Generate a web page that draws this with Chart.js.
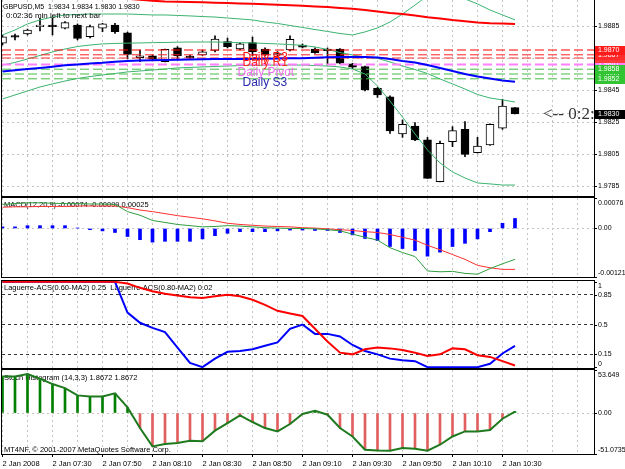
<!DOCTYPE html>
<html>
<head>
<meta charset="utf-8">
<script src="https://cdn.jsdelivr.net/npm/chart.js@4.4.0/dist/chart.umd.min.js"></script>
<style>
  html, body { margin: 0; padding: 0; background: #fff; }
  #wrap { position: relative; width: 625px; height: 469px; overflow: hidden; background: #fff; }
  canvas { position: absolute; left: 0; }
</style>
</head>
<body>
<div id="wrap">
  <canvas id="mainChart" width="625" height="197" style="top:0px"></canvas>
  <canvas id="macdChart" width="625" height="82" style="top:197px"></canvas>
  <canvas id="lagChart" width="625" height="91" style="top:279px"></canvas>
  <canvas id="stochChart" width="625" height="100" style="top:369px"></canvas>
</div>
<script>
// ---- data (42 M5 bars, 07:10 .. 10:35) ----
const timeLabels = ['2 Jan 2008', '2 Jan 07:30', '2 Jan 07:50', '2 Jan 08:10', '2 Jan 08:30', '2 Jan 08:50',
  '2 Jan 09:10', '2 Jan 09:30', '2 Jan 09:50', '2 Jan 10:10', '2 Jan 10:30'];
const labelBars = [0, 4, 8, 12, 16, 20, 24, 28, 32, 36, 40];
const gridBars = [0, 2, 4, 6, 8, 10, 12, 14, 16, 18, 20, 22, 24, 26, 28, 30, 32, 34, 36, 38, 40, 42, 44, 46];

const opens  = [1.98742, 1.98786, 1.98800, 1.98846, 1.98852, 1.98836, 1.98856, 1.98783, 1.98836, 1.98856,
  1.98808, 1.98652, 1.98664, 1.98627, 1.98714, 1.98657, 1.98669, 1.98697, 1.98752, 1.98706,
  1.98746, 1.98706, 1.98669, 1.98700, 1.98731, 1.98706, 1.98701, 1.98706, 1.98613, 1.98596,
  1.98461, 1.98408, 1.98175, 1.98225, 1.98138, 1.97877, 1.98127, 1.98204, 1.98058, 1.98106,
  1.98211, 1.98340];
const highs  = [1.98794, 1.98800, 1.98831, 1.98900, 1.98900, 1.98878, 1.98863, 1.98856, 1.98867, 1.98867,
  1.98812, 1.98700, 1.98669, 1.98706, 1.98721, 1.98669, 1.98700, 1.98788, 1.98775, 1.98744,
  1.98781, 1.98713, 1.98690, 1.98788, 1.98738, 1.98713, 1.98713, 1.98709, 1.98617, 1.98600,
  1.98466, 1.98413, 1.98263, 1.98246, 1.98154, 1.98131, 1.98221, 1.98252, 1.98154, 1.98238,
  1.98392, 1.98340];
const lows   = [1.98731, 1.98763, 1.98794, 1.98819, 1.98794, 1.98831, 1.98763, 1.98775, 1.98814, 1.98804,
  1.98644, 1.98627, 1.98638, 1.98625, 1.98638, 1.98647, 1.98666, 1.98688, 1.98713, 1.98700,
  1.98663, 1.98663, 1.98660, 1.98694, 1.98713, 1.98678, 1.98606, 1.98613, 1.98584, 1.98444,
  1.98404, 1.98179, 1.98154, 1.98134, 1.97897, 1.97875, 1.98096, 1.98033, 1.98056, 1.98103,
  1.98204, 1.98300];
const closes = [1.98783, 1.98780, 1.98825, 1.98852, 1.98846, 1.98871, 1.98773, 1.98846, 1.98863, 1.98814,
  1.98673, 1.98664, 1.98642, 1.98704, 1.98663, 1.98652, 1.98689, 1.98769, 1.98721, 1.98738,
  1.98689, 1.98669, 1.98675, 1.98767, 1.98717, 1.98683, 1.98696, 1.98617, 1.98592, 1.98450,
  1.98419, 1.98194, 1.98236, 1.98138, 1.97898, 1.98117, 1.98196, 1.98048, 1.98100, 1.98236,
  1.98350, 1.98300];

const maRed = [1.99090, 1.99082, 1.99075, 1.99068, 1.99060, 1.99052, 1.99045, 1.99038, 1.99032, 1.99026,
  1.99020, 1.99014, 1.99008, 1.99003, 1.99001, 1.99000, 1.98998, 1.98996, 1.98994, 1.98991,
  1.98989, 1.98986, 1.98983, 1.98979, 1.98976, 1.98972, 1.98968, 1.98963, 1.98958, 1.98950,
  1.98940, 1.98931, 1.98925, 1.98915, 1.98905, 1.98897, 1.98887, 1.98879, 1.98872, 1.98867,
  1.98865, 1.98863];
const maBlue = [1.98566, 1.98573, 1.98581, 1.98588, 1.98596, 1.98604, 1.98610, 1.98616, 1.98620, 1.98626,
  1.98631, 1.98634, 1.98636, 1.98638, 1.98639, 1.98641, 1.98642, 1.98643, 1.98643, 1.98644,
  1.98644, 1.98646, 1.98647, 1.98648, 1.98649, 1.98651, 1.98654, 1.98656, 1.98657, 1.98656,
  1.98653, 1.98644, 1.98631, 1.98622, 1.98606, 1.98588, 1.98569, 1.98550, 1.98534, 1.98522,
  1.98509, 1.98502];
const bbUpper = [1.98794, 1.98825, 1.98863, 1.98888, 1.98906, 1.98919, 1.98922, 1.98925, 1.98925, 1.98925,
  1.98925, 1.98922, 1.98919, 1.98919, 1.98916, 1.98913, 1.98909, 1.98906, 1.98900, 1.98894,
  1.98888, 1.98875, 1.98866, 1.98853, 1.98841, 1.98828, 1.98816, 1.98803, 1.98794, 1.98813,
  1.98838, 1.98875, 1.98925, 1.98981, 1.99038, 1.99063, 1.99050, 1.99019, 1.98988, 1.98950,
  1.98919, 1.98888];
const bbMiddle = [1.98606, 1.98622, 1.98644, 1.98666, 1.98688, 1.98706, 1.98722, 1.98731, 1.98738, 1.98741,
  1.98743, 1.98744, 1.98746, 1.98747, 1.98749, 1.98750, 1.98750, 1.98750, 1.98748, 1.98746,
  1.98744, 1.98741, 1.98738, 1.98734, 1.98729, 1.98719, 1.98703, 1.98684, 1.98669, 1.98656,
  1.98648, 1.98625, 1.98600, 1.98578, 1.98553, 1.98519, 1.98488, 1.98456, 1.98422, 1.98400,
  1.98388, 1.98375];
const bbLower = [1.98394, 1.98419, 1.98444, 1.98469, 1.98488, 1.98506, 1.98522, 1.98534, 1.98544, 1.98553,
  1.98563, 1.98569, 1.98575, 1.98581, 1.98588, 1.98591, 1.98594, 1.98597, 1.98600, 1.98603,
  1.98604, 1.98605, 1.98606, 1.98606, 1.98606, 1.98603, 1.98600, 1.98594, 1.98581, 1.98550,
  1.98475, 1.98381, 1.98281, 1.98175, 1.98075, 1.97994, 1.97938, 1.97900, 1.97869, 1.97863,
  1.97856, 1.97856];

const pivotLevels = [1.9870, 1.9867, 1.9865, 1.9861, 1.9858, 1.9855, 1.9852];
const pivotLabels = ['1.9870', '1.9867', '1.9865', '1.9861', '1.9858', '1.9855', '1.9852'];
const pivotNames = ['Daily R3', 'Daily R1', 'Daily Pivot', 'Daily S3'];
const bidPrice = 1.9830;
const bidLabel = '1.9830';
const priceTicks = [1.9885, 1.9865, 1.9845, 1.9825, 1.9805, 1.9785];
const priceTickLabels = ['1.9885', '1.9865', '1.9845', '1.9825', '1.9805', '1.9785'];

const macdHist = [0.00004, 0.00004, 0.00007, 0.00007, 0.00007, 0.00007, 0.00001, -0.00003, -0.00006, -0.00010,
  -0.00020, -0.00028, -0.00034, -0.00032, -0.00032, -0.00032, -0.00026, -0.00018, -0.00012, -0.00008,
  -0.00008, -0.00008, -0.00006, -0.00004, -0.00004, -0.00005, -0.00005, -0.00010, -0.00016, -0.00025,
  -0.00030, -0.00045, -0.00050, -0.00055, -0.00069, -0.00059, -0.00045, -0.00037, -0.00026, -0.00008,
  0.00013, 0.00025];
const macdMain = [0.00060, 0.00062, 0.00064, 0.00064, 0.00063, 0.00062, 0.00062, 0.00061, 0.00061, 0.00060,
  0.00042, 0.00033, 0.00020, 0.00015, 0.00010, 0.00007, 0.00004, 0.00005, 0.00007, 0.00006,
  0.00004, 0.00002, 0.00001, 0.00000, 0.00000, -0.00001, -0.00003, -0.00006, -0.00014, -0.00022,
  -0.00029, -0.00048, -0.00060, -0.00070, -0.00106, -0.00108, -0.00107, -0.00112, -0.00114, -0.00100,
  -0.00088, -0.00077];
const macdSignal = [0.00053, 0.00054, 0.00054, 0.00055, 0.00055, 0.00055, 0.00056, 0.00056, 0.00056, 0.00056,
  0.00052, 0.00046, 0.00042, 0.00037, 0.00032, 0.00028, 0.00024, 0.00019, 0.00013, 0.00010,
  0.00008, 0.00006, 0.00005, 0.00004, 0.00002, 0.00001, -0.00001, -0.00003, -0.00005, -0.00008,
  -0.00010, -0.00015, -0.00022, -0.00029, -0.00042, -0.00053, -0.00065, -0.00077, -0.00092, -0.00098,
  -0.00102, -0.00102];
const macdTicks = [0.00076, 0, -0.00121];
const macdTickLabels = ['0.00076', '0.00', '-0.00121'];

const lagFast = [1, 1, 1, 1, 1, 1, 1, 1, 1, 1,
  0.64, 0.52, 0.46, 0.41, 0.23, 0.05, 0, 0.10, 0.18, 0.19,
  0.21, 0.25, 0.29, 0.45, 0.50, 0.39, 0.39, 0.36, 0.26, 0.19,
  0.15, 0.10, 0.08, 0.07, 0, 0, 0, 0, 0, 0.04,
  0.16, 0.25];
const lagSlow = [1, 1, 1, 1, 1, 1, 1, 1, 1, 1,
  0.98, 0.93, 0.89, 0.86, 0.84, 0.82, 0.81, 0.83, 0.85, 0.83,
  0.79, 0.73, 0.66, 0.63, 0.60, 0.45, 0.30, 0.17, 0.15, 0.21,
  0.23, 0.22, 0.20, 0.17, 0.13, 0.15, 0.22, 0.21, 0.14, 0.12,
  0.07, 0.02];
const lagLevels = [0.85, 0.5, 0.15];
const lagTicks = [1, 0.85, 0.5, 0.15, 0];
const lagTickLabels = ['1', '0.85', '0.5', '0.15', '0'];

const stochHist = [45.6, 45.6, 48.6, 42.8, 36.1, 31.1, 22.0, 20.7, 20.7, 24.5,
  7.0, -18.7, -41.6, -38.7, -37.4, -34.5, -35.3, -22.0, -12.5, -3.0,
  -11.2, -18.7, -22.9, -13.7, -1.2, 2.9, -2.1, -18.7, -29.2, -45.7,
  -46.6, -47.0, -43.6, -44.5, -47.0, -39.5, -29.2, -22.9, -22.9, -21.2,
  -7.1, 1.87];
const stochTicks = [53.649, 0, -51.0735];
const stochTickLabels = ['53.649', '0.00', '-51.0735'];

// ---- layout / style ----
const X_MIN = -0.04, X_MAX = 47.32;
const FONT = '7.5px "Liberation Sans"';
const AXIS_FONT = '7px "Liberation Sans"';
const GRID = '#c4c4c4';

Chart.defaults.font.family = 'Liberation Sans';
Chart.defaults.font.size = 7.5;
Chart.defaults.color = '#000';

function pts(arr) {
  return arr.map((v, i) => ({ x: i, y: v }));
}
function hline(v) {
  return [{ x: X_MIN, y: v }, { x: X_MAX, y: v }];
}

function xAxis(showLabels) {
  return {
    type: 'linear', min: X_MIN, max: X_MAX, offset: false,
    afterBuildTicks: s => { s.ticks = gridBars.map(v => ({ value: v })); },
    afterFit: s => { s.height = showLabels ? 15 : 0; s.paddingLeft = 0; s.paddingRight = 0; },
    grid: {
      color: GRID, offset: false, drawTicks: showLabels, tickLength: 3,
      tickColor: c => (c.tick && labelBars.indexOf(c.tick.value) >= 0) ? '#000' : 'rgba(0,0,0,0)'
    },
    border: { display: false, dash: [2, 3] },
    ticks: {
      display: showLabels, autoSkip: false, maxRotation: 0, align: 'start', padding: 2,
      font: { size: 7.5 }, color: '#000',
      callback: v => { const k = labelBars.indexOf(v); return k >= 0 ? timeLabels[k] : ''; }
    }
  };
}

function yAxis(min, max, gridTicks, gridColor, dash) {
  return {
    position: 'right', min: min, max: max,
    afterBuildTicks: s => { s.ticks = gridTicks.map(v => ({ value: v })); },
    afterFit: s => { s.width = 31; s.paddingTop = 0; s.paddingBottom = 0; },
    grid: { color: gridColor, drawTicks: false },
    border: { display: false, dash: dash },
    ticks: { display: false }
  };
}

function drawFrame(chart) {
  const ctx = chart.ctx, a = chart.chartArea;
  ctx.save();
  ctx.strokeStyle = '#000';
  ctx.lineWidth = 1;
  ctx.strokeRect(a.left - 0.5, a.top - 0.5, a.right - a.left + 1, a.bottom - a.top + 1);
  ctx.restore();
}

function drawRightLabels(chart, values, texts) {
  const ctx = chart.ctx, a = chart.chartArea, ys = chart.scales.y;
  ctx.save();
  ctx.font = AXIS_FONT;
  ctx.fillStyle = '#000';
  ctx.strokeStyle = '#000';
  ctx.textBaseline = 'middle';
  values.forEach((v, i) => {
    const py = Math.round(ys.getPixelForValue(v));
    const ty = Math.min(Math.max(py, a.top + 5), a.bottom - 4);
    ctx.beginPath();
    ctx.moveTo(a.right, py + 0.5);
    ctx.lineTo(a.right + 3, py + 0.5);
    ctx.stroke();
    ctx.fillText(texts[i], a.right + 4, ty);
  });
  ctx.restore();
}

function titles(list) {
  return {
    id: 'titles',
    beforeDatasetsDraw(chart) {
      const ctx = chart.ctx, a = chart.chartArea;
      ctx.save();
      ctx.font = FONT;
      ctx.fillStyle = '#000';
      ctx.textBaseline = 'middle';
      list.forEach(t => ctx.fillText(t.text, a.left + t.dx, t.fromBottom ? a.bottom - t.dy : a.top + t.dy));
      ctx.restore();
    }
  };
}

const baseOptions = {
  responsive: false,
  animation: false,
  devicePixelRatio: 1,
  events: [],
  plugins: { legend: { display: false }, tooltip: { enabled: false } }
};

// ---- main price panel ----
const boxColors = ['#ff1a1a', '#ff2a2a', '#ff3a3a', '#ff80ff', '#33c433', '#33c433', '#33c433'];
const lineColors = ['#ff0000', '#ff2020', '#ff3030', '#ff80ff', '#44bb44', '#44bb44', '#44bb44'];
const boxOrder = [3, 2, 1, 0, 5, 4, 6];
const nameColors = ['#ff1010', '#ff2a2a', '#f070f0', '#2a2ab0'];
const nameAt = [1.98653, 1.98619, 1.98556, 1.98497];
const nameBar = [19.2, 19.2, 18.8, 19.2];

const mainDecor = {
  id: 'mainDecor',
  afterDatasetsDraw(chart) {
    const ctx = chart.ctx, a = chart.chartArea, xs = chart.scales.x, ys = chart.scales.y;
    ctx.save();
    ctx.beginPath();
    ctx.rect(a.left, a.top, a.right - a.left, a.bottom - a.top);
    ctx.clip();
    ctx.textBaseline = 'middle';
    ctx.font = '12px "Liberation Sans"';
    pivotNames.forEach((n, i) => {
      ctx.fillStyle = nameColors[i];
      ctx.fillText(n, xs.getPixelForValue(nameBar[i]), ys.getPixelForValue(nameAt[i]));
    });
    ctx.font = '17px "Liberation Serif"';
    ctx.fillStyle = '#333';
    ctx.fillText('<-- 0:2:36', xs.getPixelForValue(43.24), ys.getPixelForValue(bidPrice) + 1);
    ctx.fillStyle = '#000';
    ctx.font = '7px "Liberation Sans"';
    ctx.fillText('GBPUSD,M5  1.9834 1.9834 1.9830 1.9830', 3, 7.5);
    ctx.font = '8px "Liberation Sans"';
    ctx.fillText('0:02:36 min left to next bar', 6, 15.5);
    ctx.restore();
  },
  afterDraw(chart) {
    drawFrame(chart);
    drawRightLabels(chart, priceTicks, priceTickLabels);
    const ctx = chart.ctx, a = chart.chartArea, ys = chart.scales.y;
    ctx.save();
    ctx.font = AXIS_FONT;
    ctx.textBaseline = 'middle';
    const box = (v, text, bg) => {
      const py = Math.round(ys.getPixelForValue(v));
      ctx.fillStyle = bg;
      ctx.fillRect(a.right + 1, py - 4, 30, 9);
      ctx.fillStyle = '#fff';
      ctx.fillText(text, a.right + 4, py + 0.5);
    };
    boxOrder.forEach(k => box(pivotLevels[k], pivotLabels[k], boxColors[k]));
    box(bidPrice, bidLabel, '#000');
    ctx.restore();
  }
};

const mainDatasets = [
  {
    type: 'bar', label: 'wick', order: 20, grouped: false, barThickness: 1,
    data: opens.map((o, i) => ({ x: i, y: [lows[i], highs[i]] })),
    backgroundColor: '#000', borderWidth: 0
  },
  {
    type: 'bar', label: 'body', order: 19, grouped: false, barThickness: 8, minBarLength: 1.5,
    data: opens.map((o, i) => ({ x: i, y: [o, closes[i]] })),
    backgroundColor: opens.map((o, i) => closes[i] >= o ? '#fff' : '#000'),
    borderColor: '#000', borderWidth: 1, borderSkipped: false
  },
  { type: 'line', label: 'bbU', order: 5, data: pts(bbUpper), borderColor: '#3cb371', borderWidth: 1, pointRadius: 0 },
  { type: 'line', label: 'bbM', order: 5, data: pts(bbMiddle), borderColor: '#3cb371', borderWidth: 1, pointRadius: 0 },
  { type: 'line', label: 'bbL', order: 5, data: pts(bbLower), borderColor: '#3cb371', borderWidth: 1, pointRadius: 0 },
  { type: 'line', label: 'maRed', order: 3, data: pts(maRed), borderColor: '#ff0000', borderWidth: 2, pointRadius: 0 },
  { type: 'line', label: 'maBlue', order: 3, data: pts(maBlue), borderColor: '#0000ff', borderWidth: 2, pointRadius: 0 }
];
pivotLevels.forEach((v, k) => {
  mainDatasets.push({
    type: 'line', label: pivotLabels[k], order: 4, data: hline(v),
    borderColor: lineColors[k], borderWidth: k === 3 ? 2 : 1, borderDash: [9, 4], pointRadius: 0
  });
});

new Chart(document.getElementById('mainChart'), {
  type: 'bar',
  data: { datasets: mainDatasets },
  options: Object.assign({}, baseOptions, {
    layout: { padding: { left: 2, right: 0, top: 0, bottom: 1 } },
    scales: {
      x: xAxis(false),
      y: yAxis(1.977875, 1.990125, priceTicks.concat([bidPrice]), GRID, [2, 3])
    }
  }),
  plugins: [mainDecor]
});

// ---- MACD ----
new Chart(document.getElementById('macdChart'), {
  type: 'bar',
  data: {
    datasets: [
      { type: 'bar', order: 5, grouped: false, barThickness: 3, data: pts(macdHist), backgroundColor: '#0000ff' },
      { type: 'line', order: 2, data: pts(macdSignal), borderColor: '#ff3030', borderWidth: 1, pointRadius: 0 },
      { type: 'line', order: 1, data: pts(macdMain), borderColor: '#2f9e3f', borderWidth: 1, pointRadius: 0 }
    ]
  },
  options: Object.assign({}, baseOptions, {
    layout: { padding: { left: 2, right: 0, top: 1, bottom: 2 } },
    scales: { x: xAxis(false), y: yAxis(-0.00121, 0.00076, [0], GRID, [2, 3]) }
  }),
  plugins: [
    titles([{ text: 'MACD(12,20,9) -0.00074 -0.00099 0.00025', dx: 2, dy: 7 }]),
    { id: 'macdDecor', afterDraw(chart) { drawFrame(chart); drawRightLabels(chart, macdTicks, macdTickLabels); } }
  ]
});

// ---- Laguerre ----
new Chart(document.getElementById('lagChart'), {
  type: 'line',
  data: {
    datasets: [
      { order: 2, data: pts(lagFast), borderColor: '#0000ff', borderWidth: 2, pointRadius: 0 },
      { order: 1, data: pts(lagSlow), borderColor: '#ff0000', borderWidth: 2, pointRadius: 0 }
    ]
  },
  options: Object.assign({}, baseOptions, {
    layout: { padding: { left: 2, right: 0, top: 2, bottom: 2 } },
    scales: { x: xAxis(false), y: yAxis(-0.01, 1.01, lagLevels, '#333', [3, 3]) }
  }),
  plugins: [
    titles([{ text: 'Laguerre-ACS(0.60-MA2) 0.25  Laguerre-ACS(0.80-MA2) 0.02', dx: 2, dy: 7 }]),
    { id: 'lagDecor', afterDraw(chart) { drawFrame(chart); drawRightLabels(chart, lagTicks, lagTickLabels); } }
  ]
});

// ---- Stoch histogram ----
new Chart(document.getElementById('stochChart'), {
  type: 'bar',
  data: {
    datasets: [
      {
        type: 'bar', order: 5, grouped: false, barThickness: 2, data: pts(stochHist),
        backgroundColor: stochHist.map(v => v >= 0 ? '#008000' : '#e06060')
      },
      { type: 'line', order: 1, data: pts(stochHist), borderColor: '#1f7a1f', borderWidth: 2, pointRadius: 0 }
    ]
  },
  options: Object.assign({}, baseOptions, {
    layout: { padding: { left: 2, right: 0, top: 1, bottom: 0 } },
    scales: { x: xAxis(true), y: yAxis(-51.0735, 53.649, [0], GRID, [2, 3]) }
  }),
  plugins: [
    titles([
      { text: 'Stoch Histogram (14,3,3) 1.8672 1.8672', dx: 2, dy: 8 },
      { text: 'MT4NF, \u00a9 2001-2007 MetaQuotes Software Corp.', dx: 2, dy: 4, fromBottom: true }
    ]),
    { id: 'stochDecor', afterDraw(chart) { drawFrame(chart); drawRightLabels(chart, stochTicks, stochTickLabels); } }
  ]
});
</script>
</body>
</html>
